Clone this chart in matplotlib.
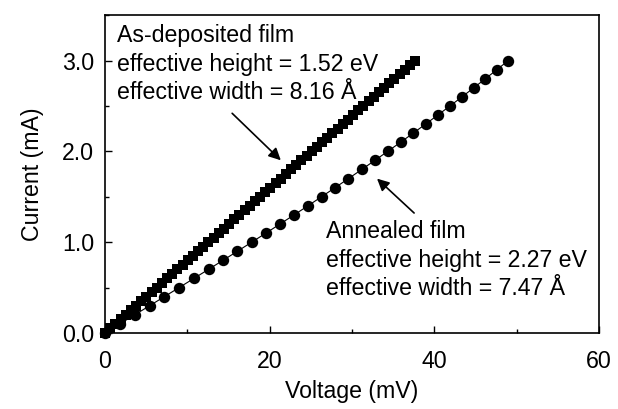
import matplotlib
matplotlib.use("Agg")
import matplotlib.pyplot as plt
from matplotlib.ticker import MultipleLocator

plt.rcParams["font.family"] = ["Liberation Sans", "DejaVu Sans"]

# As-deposited film (squares): voltage (mV) vs current (mA)
asdep_v = [0.00, 0.63, 1.26, 1.88, 2.51, 3.14, 3.77, 4.40, 5.02, 5.65,
           6.28, 6.91, 7.54, 8.16, 8.79, 9.42, 10.05, 10.68, 11.30, 11.93,
           12.56, 13.19, 13.82, 14.44, 15.07, 15.70, 16.33, 16.96, 17.58, 18.21,
           18.84, 19.47, 20.10, 20.72, 21.35, 21.98, 22.61, 23.24, 23.86, 24.49,
           25.12, 25.75, 26.38, 27.00, 27.63, 28.26, 28.89, 29.52, 30.14, 30.77,
           31.40, 32.03, 32.66, 33.28, 33.91, 34.54, 35.17, 35.80, 36.42, 37.05,
           37.68]
asdep_i = [0.00, 0.05, 0.10, 0.15, 0.20, 0.25, 0.30, 0.35, 0.40, 0.45,
           0.50, 0.55, 0.60, 0.65, 0.70, 0.75, 0.80, 0.85, 0.90, 0.95,
           1.00, 1.05, 1.10, 1.15, 1.20, 1.25, 1.30, 1.35, 1.40, 1.45,
           1.50, 1.55, 1.60, 1.65, 1.70, 1.75, 1.80, 1.85, 1.90, 1.95,
           2.00, 2.05, 2.10, 2.15, 2.20, 2.25, 2.30, 2.35, 2.40, 2.45,
           2.50, 2.55, 2.60, 2.65, 2.70, 2.75, 2.80, 2.85, 2.90, 2.95,
           3.00]

# Annealed film (circles)
anneal_v = [0.00, 1.81, 3.62, 5.42, 7.22, 9.01, 10.79, 12.57, 14.34, 16.09,
            17.83, 19.56, 21.27, 22.97, 24.65, 26.31, 27.95, 29.58, 31.19, 32.78,
            34.35, 35.91, 37.44, 38.95, 40.44, 41.92, 43.37, 44.81, 46.22, 47.62,
            49.00]
anneal_i = [0.0, 0.1, 0.2, 0.3, 0.4, 0.5, 0.6, 0.7, 0.8, 0.9,
            1.0, 1.1, 1.2, 1.3, 1.4, 1.5, 1.6, 1.7, 1.8, 1.9,
            2.0, 2.1, 2.2, 2.3, 2.4, 2.5, 2.6, 2.7, 2.8, 2.9,
            3.0]

fs = 16.7

fig = plt.figure(figsize=(6.18, 4.09), dpi=100)
ax = fig.add_axes([0.170, 0.186, 0.799, 0.777])

ax.plot(anneal_v, anneal_i, color="black", lw=0.8, marker="o",
        markersize=8.2, markeredgewidth=0, clip_on=False)
ax.plot(asdep_v, asdep_i, color="black", lw=0.8, marker="s",
        markersize=7.4, markeredgewidth=0, clip_on=False)

ax.set_xlim(0, 60)
ax.set_ylim(0, 3.5)
ax.xaxis.set_major_locator(MultipleLocator(20))
ax.xaxis.set_minor_locator(MultipleLocator(10))
ax.yaxis.set_minor_locator(MultipleLocator(0.5))
ax.set_yticks([0, 1, 2, 3])
ax.set_yticklabels(["0.0", "1.0", "2.0", "3.0"])
ax.tick_params(which="both", direction="in", labelsize=fs, width=1.0)
ax.tick_params(which="major", length=5)
ax.tick_params(which="minor", length=3)
ax.tick_params(axis="x", pad=12)
ax.tick_params(axis="y", pad=8)
for s in ax.spines.values():
    s.set_linewidth(1.2)

ax.set_xlabel("Voltage (mV)", fontsize=fs, labelpad=5)
ax.set_ylabel("Current (mA)", fontsize=fs, labelpad=13)

ax.text(1.4, 3.40, "As-deposited film\neffective height = 1.52 eV\neffective width = 8.16 Å",
        fontsize=fs, va="top", ha="left", linespacing=1.3)
ax.text(26.8, 1.24, "Annealed film\neffective height = 2.27 eV\neffective width = 7.47 Å",
        fontsize=fs, va="top", ha="left", linespacing=1.3)

arrow = dict(arrowstyle="-|>", color="black", lw=1.2, mutation_scale=18)
ax.annotate("", xy=(21.6, 1.88), xytext=(15.2, 2.44), arrowprops=arrow)
ax.annotate("", xy=(32.8, 1.72), xytext=(37.8, 1.30), arrowprops=arrow)

fig.savefig("out.png", dpi=100)
